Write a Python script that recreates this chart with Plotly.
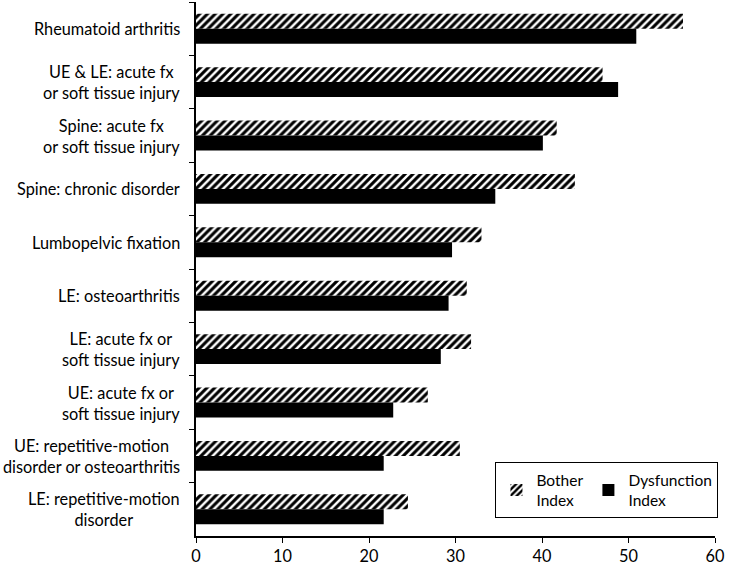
import plotly.graph_objects as go

categories = [
    "Rheumatoid arthritis",
    "UE & LE: acute fx<br>or soft tissue injury",
    "Spine: acute fx<br>or soft tissue injury",
    "Spine: chronic disorder",
    "Lumbopelvic fixation",
    "LE: osteoarthritis",
    "LE: acute fx or<br>soft tissue injury",
    "UE: acute fx or<br>soft tissue injury",
    "UE: repetitive-motion<br>disorder or osteoarthritis",
    "LE: repetitive-motion<br>disorder",
]
bother = [56.3, 47.0, 41.7, 43.8, 33.0, 31.3, 31.8, 26.8, 30.5, 24.5]
dysfunction = [50.9, 48.8, 40.1, 34.6, 29.6, 29.2, 28.3, 22.8, 21.7, 21.7]
x_ticks = [0, 10, 20, 30, 40, 50, 60]

FONT = "Lato"
FS = 16.3

fig = go.Figure()
fig.add_trace(go.Bar(
    y=categories, x=bother, orientation="h", name="Bother<br>Index",
    marker=dict(color="white", line=dict(width=0),
                pattern=dict(shape="/", fgcolor="black", bgcolor="white",
                             size=5.5, solidity=0.55, fillmode="replace")),
))
fig.add_trace(go.Bar(
    y=categories, x=dysfunction, orientation="h", name="Dysfunction<br>Index",
    marker=dict(color="black", line=dict(width=0)),
))

for c in categories:
    fig.add_annotation(x=0, xref="paper", y=c, yref="y", text=c,
                       xanchor="right", align="center", xshift=-14,
                       showarrow=False, font=dict(family=FONT, size=FS, color="black"))

fig.update_layout(
    width=744, height=567,
    margin=dict(l=196, r=29, t=2, b=27),
    plot_bgcolor="white", paper_bgcolor="white",
    barmode="group", bargap=0.44, bargroupgap=0,
    font=dict(family=FONT, size=FS, color="black"),
    showlegend=True,
    legend=dict(orientation="h", x=0.577, y=0.138, xanchor="left", yanchor="top",
                bordercolor="black", borderwidth=1, bgcolor="white",
                font=dict(family=FONT, size=15.5, color="black"),
                itemwidth=30, traceorder="normal"),
)
fig.update_xaxes(range=[0, 60], tickvals=x_ticks, showgrid=False, zeroline=False,
                 showline=True, linecolor="black", linewidth=1.5,
                 ticks="outside", ticklen=5, tickcolor="black",
                 tickfont=dict(family=FONT, size=FS, color="black"))
fig.update_yaxes(autorange="reversed", showgrid=False, zeroline=False,
                 showline=True, linecolor="black", linewidth=1.5,
                 ticks="outside", ticklen=5, tickcolor="black", tickson="boundaries",
                 showticklabels=False)

fig.write_html("out.html", config={"displayModeBar": False},
               post_script="document.body.style.margin='0';")
